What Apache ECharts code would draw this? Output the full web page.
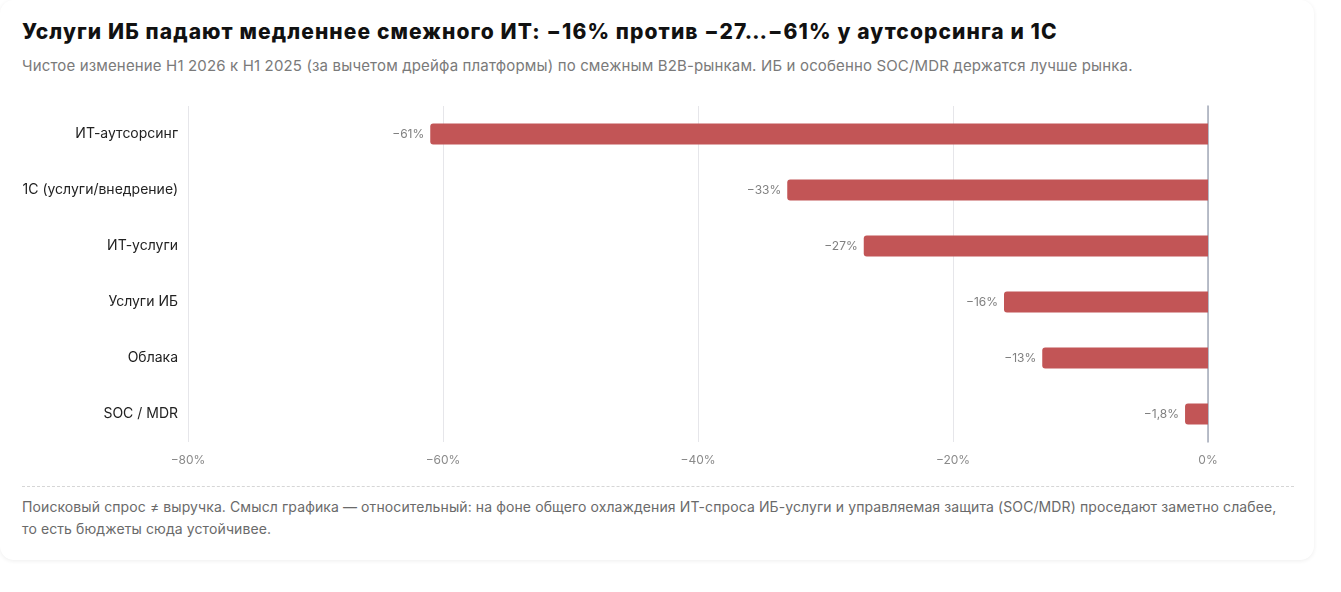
<!DOCTYPE html>
<html><head><meta charset="utf-8">
<script src="https://cdn.jsdelivr.net/npm/echarts@6/dist/echarts.min.js"></script>
<style>
html,body{margin:0;padding:0;background:#fff;width:1341px;height:592px;overflow:hidden;font-family:Inter,"Noto Sans",sans-serif;}
.card{position:absolute;left:0;top:0;width:1314px;height:560px;border-radius:14px;background:#fff;box-shadow:0 1px 4px rgba(0,0,0,0.07);}
.title{position:absolute;left:22px;top:19px;font-size:21px;font-weight:800;color:#111;letter-spacing:1.1px;white-space:nowrap;}
.sub{position:absolute;left:22px;top:56px;font-size:15px;color:#7a7a7a;letter-spacing:0.15px;white-space:nowrap;}
.hr{position:absolute;left:22px;top:486px;width:1272px;border-top:1px dashed #d6d6d6;}
.foot{position:absolute;left:22px;top:496px;width:1268px;font-size:14px;line-height:22px;color:#6a6a6a;letter-spacing:0.1px;}
#chart{position:absolute;left:0;top:90px;width:1341px;height:385px;}
</style></head>
<body>
<div class="card"></div>
<div class="title">Услуги ИБ падают медленнее смежного ИТ: −16% против −27…−61% у аутсорсинга и 1С</div>
<div class="sub">Чистое изменение H1 2026 к H1 2025 (за вычетом дрейфа платформы) по смежным B2B-рынкам. ИБ и особенно SOC/MDR держатся лучше рынка.</div>
<div id="chart"></div>
<div class="hr"></div>
<div class="foot">Поисковый спрос ≠ выручка. Смысл графика — относительный: на фоне общего охлаждения ИТ-спроса ИБ-услуги и управляемая защита (SOC/MDR) проседают заметно слабее, то есть бюджеты сюда устойчивее.</div>
<script>
var categories = ["ИТ-аутсорсинг","1С (услуги/внедрение)","ИТ-услуги","Услуги ИБ","Облака","SOC / MDR"];
var values = [-61, -33, -27, -16, -13, -1.8];
var tickMin = -80, tickMax = 0, tickStep = 20;

function fmt(v){
  var s = (Math.abs(v) + '').replace('.', ',');
  return (v < 0 ? '\u2212' : '') + s + '%';
}
var chart = echarts.init(document.getElementById('chart'), null, {renderer:'canvas'});
chart.setOption({
  animation:false,
  grid:{left:188, right:133, top:16, height:336, containLabel:false},
  xAxis:{type:'value', min:tickMin, max:tickMax, interval:tickStep,
    axisLine:{show:false}, axisTick:{show:false},
    axisLabel:{color:'#8a8a8a', fontSize:12, margin:12, fontFamily:'Inter', formatter:function(v){return fmt(v);}},
    splitLine:{show:true, lineStyle:{color:'#e6e6ea', width:1}}},
  yAxis:[{type:'category', data:categories, inverse:true,
    axisLine:{show:false}, axisTick:{show:false}, splitLine:{show:false},
    axisLabel:{color:'#222', fontSize:14, margin:10, fontFamily:'Inter'}},
    {type:'category', data:categories, inverse:true, position:'right',
    axisLine:{show:true, onZero:false, lineStyle:{color:'#a3aab8', width:1.5}}, axisTick:{show:false}, axisLabel:{show:false}, splitLine:{show:false}}],
  series:[{type:'bar', data:values, barWidth:21, yAxisIndex:0,
    itemStyle:{color:'#c25556', borderRadius:[3,0,0,3]},
    label:{show:true, position:'left', distance:6, color:'#808080', fontSize:12, fontFamily:'Inter',
      formatter:function(p){return fmt(p.value);}}}]
});
</script>
</body></html>
